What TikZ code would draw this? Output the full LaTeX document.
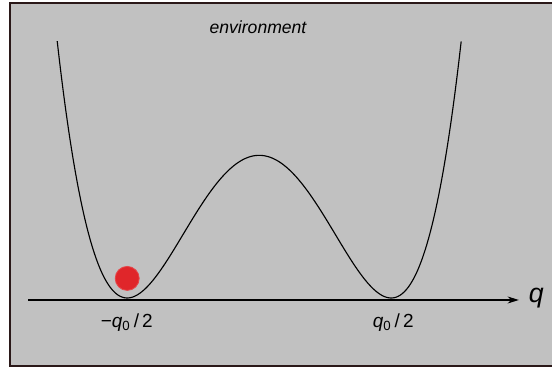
\documentclass[tikz,border=0pt]{standalone}
\usepackage{fontspec}
\setmainfont{Liberation Sans}
\usetikzlibrary{arrows.meta}
\definecolor{panelgray}{HTML}{C1C1C1}
\definecolor{framebrown}{HTML}{2A1818}
\definecolor{ballred}{HTML}{E0262A}
\begin{document}
\begin{tikzpicture}[
  lbl/.style={font=\fontsize{13.5}{15}\selectfont},
  axlbl/.style={font=\fontsize{19}{22}\selectfont\itshape},
  ball/.style={circle,fill=ballred,draw=ballred!85!white,line width=0.6pt,minimum size=0.6cm,inner sep=0pt}
]
\useasboundingbox (0,0) rectangle (13.8,9.25);

% ---- Panel ----
\draw[framebrown, fill=panelgray, line width=1.6pt]
  (0.25,0.1) rectangle (14.2,9.18);
\node[lbl,font=\fontsize{12.5}{15}\selectfont\itshape] (env) at (6.45,8.57) {environment};

% ---- Axis q ----
\coordinate (qstart) at (0.7,1.75);
\coordinate (qend) at (12.97,1.75);
\draw[-{Stealth[length=8pt,width=5pt]},line width=0.8pt] (qstart) -- (qend);
\node[axlbl,anchor=west] (q) at (13.1,1.8) {q};

% ---- Double well potential ----
\draw[line width=0.8pt] plot[domain=-5.05:5.05,samples=200,smooth]
  ({6.48+\x},{1.8+0.03007*(\x*\x-10.89)^2});

% Minima labels
\node[lbl] (qleft) at (3.17,1.18) {−\textit{q}\textsubscript{0}\,/\,2};
\node[lbl] (qright) at (9.83,1.18) {\textit{q}\textsubscript{0}\,/\,2};

% Particle in left well
\node[ball] (particle) at (3.18,2.29) {};
\end{tikzpicture}
\end{document}
